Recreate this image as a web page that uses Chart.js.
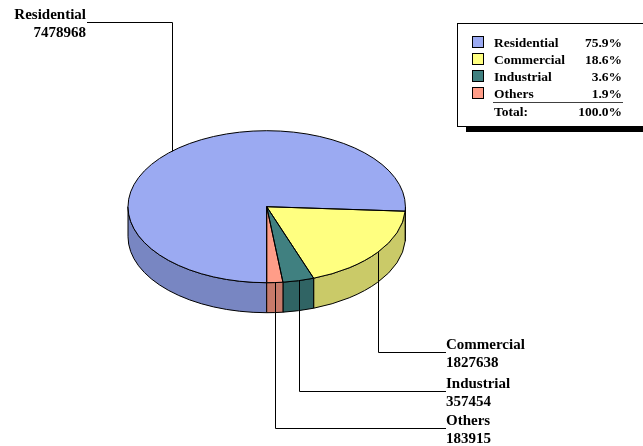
<!DOCTYPE html>
<html>
<head>
<meta charset="utf-8">
<script src="https://cdn.jsdelivr.net/npm/chart.js@4/dist/chart.umd.min.js"></script>
<style>
  html, body { margin: 0; padding: 0; background: #fff; }
  canvas { display: block; }
</style>
</head>
<body>
<canvas id="myChart" width="643" height="446"></canvas>
<script>
let labels = ['Residential', 'Commercial', 'Industrial', 'Others'];
let values = [7478968, 1827638, 357454, 183915];
let colorHex = ['#9BAAF2', '#FFFF80', '#408080', '#FF9D88'];
let sideHex = ['#7886C2', '#CACA68', '#306464', '#C87A6A'];

// where each callout leader ends (text hangs off this point)
let callouts = [
  {x: 87, y: 22.5, align: 'right'},
  {x: 446, y: 352.5, align: 'left'},
  {x: 446, y: 391.5, align: 'left'},
  {x: 446, y: 428.5, align: 'left'}
];

const tilt = 76 / 138.7;   // vertical squash of the disc
const depth = 30;          // thickness of the disc
const serif = '"Liberation Serif", "Times New Roman", serif';

let total = values.reduce((s, v) => s + v, 0);

let pie3d = {
  id: 'pie3d',
  beforeDatasetsDraw(chart) {
    let ctx = chart.ctx;
    let arcs = chart.getDatasetMeta(0).data;
    // side walls (only the front half of the rim shows)
    arcs.forEach((a, i) => {
      let ry = a.outerRadius * tilt;
      for (let k = -1; k <= 2; k++) {
        let lo = Math.max(a.startAngle, k * 2 * Math.PI);
        let hi = Math.min(a.endAngle, k * 2 * Math.PI + Math.PI);
        if (hi <= lo) continue;
        ctx.beginPath();
        ctx.ellipse(a.x, a.y, a.outerRadius, ry, 0, lo, hi);
        ctx.ellipse(a.x, a.y + depth, a.outerRadius, ry, 0, hi, lo, true);
        ctx.closePath();
        ctx.fillStyle = sideHex[i];
        ctx.fill();
        ctx.lineWidth = 1;
        ctx.strokeStyle = '#000';
        ctx.stroke();
      }
    });
    // squash the top face into an ellipse
    let c = arcs[0];
    ctx.save();
    ctx.translate(c.x, c.y);
    ctx.scale(1, tilt);
    ctx.translate(-c.x, -c.y);
  },
  afterDatasetsDraw(chart) {
    let ctx = chart.ctx;
    ctx.restore();
    let arcs = chart.getDatasetMeta(0).data;

    // outlines of the top face
    arcs.forEach(a => {
      ctx.save();
      ctx.translate(a.x, a.y);
      ctx.scale(1, tilt);
      ctx.beginPath();
      ctx.moveTo(0, 0);
      ctx.arc(0, 0, a.outerRadius, a.startAngle, a.endAngle);
      ctx.closePath();
      ctx.restore();
      ctx.lineWidth = 1;
      ctx.strokeStyle = '#000';
      ctx.stroke();
    });

    // callouts
    arcs.forEach((a, i) => {
      let m = (a.startAngle + a.endAngle) / 2;
      let px = Math.round(a.x + a.outerRadius * Math.cos(m)) + 0.5;
      let py = a.y + a.outerRadius * tilt * Math.sin(m);
      let c = callouts[i];
      ctx.beginPath();
      ctx.moveTo(px, py);
      ctx.lineTo(px, c.y);
      ctx.lineTo(c.x, c.y);
      ctx.strokeStyle = '#000';
      ctx.lineWidth = 1;
      ctx.stroke();

      ctx.fillStyle = '#000';
      ctx.font = 'bold 15px ' + serif;
      ctx.textAlign = c.align;
      ctx.textBaseline = 'alphabetic';
      let tx = c.align == 'right' ? c.x - 1 : c.x;
      ctx.fillText(labels[i], tx, c.y - 4);
      ctx.fillText(String(values[i]), tx, c.y + 14);
    });

    // legend box with shadow
    ctx.fillStyle = '#000';
    ctx.fillRect(466, 127, 200, 5);
    ctx.fillStyle = '#fff';
    ctx.fillRect(457.5, 23.5, 200, 103);
    ctx.strokeStyle = '#000';
    ctx.strokeRect(457.5, 23.5, 200, 103);

    ctx.font = 'bold 13.5px ' + serif;
    labels.forEach((lab, i) => {
      let y = 42.3 + i * 16.9;
      ctx.fillStyle = colorHex[i];
      ctx.fillRect(472.5, Math.round(y - 6) + 0.5, 11, 11);
      ctx.strokeStyle = '#000';
      ctx.strokeRect(472.5, Math.round(y - 6) + 0.5, 11, 11);
      ctx.fillStyle = '#000';
      ctx.textAlign = 'left';
      ctx.fillText(lab, 494, y + 4.5);
      ctx.textAlign = 'right';
      ctx.fillText((values[i] / total * 100).toFixed(1) + '%', 622, y + 4.5);
    });
    ctx.beginPath();
    ctx.moveTo(493, 102.5);
    ctx.lineTo(623, 102.5);
    ctx.strokeStyle = '#404040';
    ctx.stroke();
    ctx.fillStyle = '#000';
    ctx.textAlign = 'left';
    ctx.fillText('Total:', 494, 116.2);
    ctx.textAlign = 'right';
    ctx.fillText('100.0%', 622, 116.2);
  }
};

let ctx = document.getElementById('myChart').getContext('2d');
let myChart = new Chart(ctx, {
  type: 'pie',
  data: {
    labels: labels,
    datasets: [{
      data: values,
      backgroundColor: colorHex,
      borderWidth: 0,
      radius: 138.7
    }]
  },
  options: {
    responsive: false,
    animation: false,
    events: [],
    rotation: 180,
    layout: {
      padding: {left: 128, right: 237.6, top: 68, bottom: 100.6}
    },
    plugins: {
      legend: {display: false},
      tooltip: {enabled: false}
    }
  },
  plugins: [pie3d]
});
</script>
</body>
</html>
